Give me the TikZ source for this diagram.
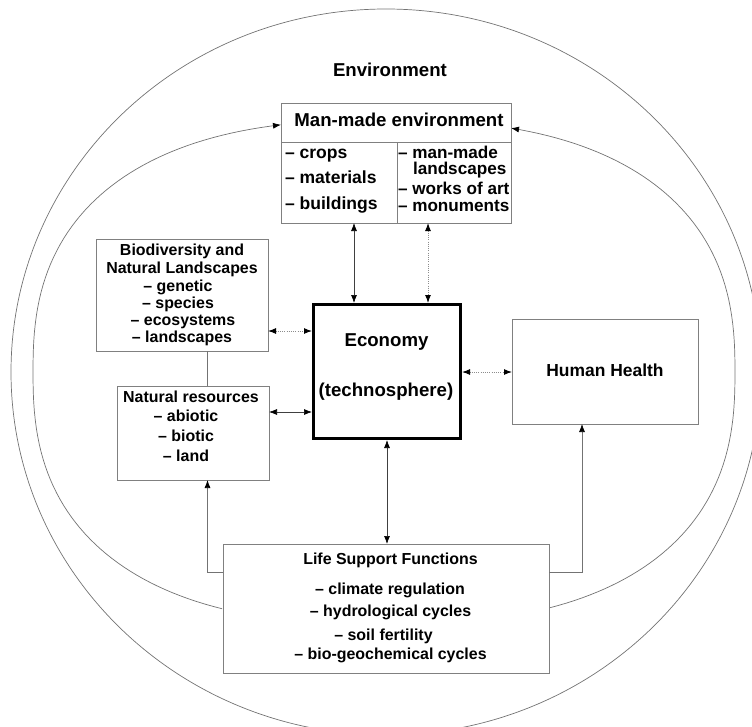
\documentclass[tikz,border=0pt]{standalone}
\usepackage{fontspec}
\setmainfont{Liberation Sans}
\usetikzlibrary{arrows.meta,calc}
\begin{document}
\begin{tikzpicture}[x=1bp,y=-1bp,
  >={Latex[length=8bp,width=6bp,color=black]},
  box/.style={draw=black!50, line width=0.8bp, fill=white, inner sep=0pt, outer sep=0pt},
  ecobox/.style={draw=black, line width=3bp, fill=white, inner sep=0pt, outer sep=1.5bp},
  ell/.style={draw=black!55, line width=0.7bp},
  con/.style={draw=black!75, line width=0.7bp},
  dotcon/.style={draw=black!45, line width=1bp, dash pattern=on 1bp off 1.2bp},
  plain/.style={draw=black!55, line width=0.7bp},
  lab/.style={inner sep=0pt, outer sep=0pt, text height=0.7em, text depth=0pt,
    font=\bfseries\fontsize{#1}{#1}\selectfont}
]
\useasboundingbox (0,0) rectangle (752,727);
\clip (0,0) rectangle (752,727);

% outer environment ellipse
\draw[ell] (386,372) ellipse [x radius=375, y radius=363];

% inner cycle arcs (superellipse)
\draw[ell,<-] plot[domain=102.48:247.65, samples=90, variable=\t]
  ({384+351*cos(\t)*(abs(cos(\t))+0.00001)^(-0.2)},
   {372-252*sin(\t)*(abs(sin(\t))+0.00001)^(-0.2)});
\draw[ell,->] plot[domain=-67.1:73.7, samples=90, variable=\t]
  ({384+351*cos(\t)*(abs(cos(\t))+0.00001)^(-0.2)},
   {372-252*sin(\t)*(abs(sin(\t))+0.00001)^(-0.2)});

% boxes
\node[box, minimum width=230bp, minimum height=120bp] (mm) at (396,163) {};
\node[box, minimum width=172bp, minimum height=112bp] (bio) at (182,295) {};
\node[box, minimum width=152bp, minimum height=94bp] (nr) at (193,433) {};
\node[ecobox, minimum width=147bp, minimum height=134bp] (eco) at (387,371.5) {};
\node[box, minimum width=186bp, minimum height=105bp] (hh) at (605,371.5) {};
\node[box, minimum width=326bp, minimum height=129bp] (lsf) at (386,608.5) {};

% helper coordinates
\coordinate (h1) at (0,142);
\coordinate (v1) at (397,0);
\coordinate (a1) at (354,0);
\coordinate (a2) at (428,0);
\coordinate (a3) at (0,331);
\coordinate (a4) at (0,412);
\coordinate (a5) at (0,372);
\coordinate (a6) at (387,0);
\coordinate (a7) at (0,572);
\coordinate (a8) at (207.5,0);
\coordinate (a9) at (582,0);

% man-made box dividers
\draw[box] (mm.west |- h1) -- (mm.east |- h1);
\draw[box] (v1 |- h1) -- (v1 |- mm.south);

% connectors
\draw[con,<->] (mm.south -| a1) -- (eco.north -| a1);
\draw[dotcon,<->] (mm.south -| a2) -- (eco.north -| a2);
\draw[dotcon,<->] (bio.east |- a3) -- (eco.west |- a3);
\draw[con,<->] (nr.east |- a4) -- (eco.west |- a4);
\draw[dotcon,<->] (eco.east |- a5) -- (hh.west |- a5);
\draw[con,<->] (eco.south -| a6) -- (lsf.north -| a6);
\draw[plain,->] (lsf.west |- a7) -| (nr.south -| a8);
\draw[plain,->] (lsf.east |- a7) -| (hh.south -| a9);
\draw[plain] (bio.south -| a8) -- (nr.north -| a8);

% texts
\node[lab=18.7] (tenv) at (390,73) {Environment};
\node[lab=18.7] (tmm) at (399,123) {Man-made environment};
\node[lab=17.6, anchor=west] (tmm1) at (285,155) {– crops};
\node[lab=17.6, anchor=west] (tmm2) at (285,180) {– materials};
\node[lab=17.6, anchor=west] (tmm3) at (285,206) {– buildings};
\node[lab=17.2, anchor=west] (tmm4) at (398,155) {– man-made};
\node[lab=17.2, anchor=west] (tmm5) at (413,171) {landscapes};
\node[lab=17.2, anchor=west] (tmm6) at (398,191) {– works of art};
\node[lab=17.2, anchor=west] (tmm7) at (398,208) {– monuments};

\node[lab=16] (tb1) at (182,252) {Biodiversity and};
\node[lab=16] (tb2) at (182,270) {Natural Landscapes};
\node[lab=16] (tb3) at (178,288) {– genetic};
\node[lab=16] (tb4) at (178,305) {– species};
\node[lab=16] (tb5) at (183,322) {– ecosystems};
\node[lab=16] (tb6) at (182,339) {– landscapes};

\node[lab=16] (tn1) at (191,399) {Natural resources};
\node[lab=16] (tn2) at (186,418) {– abiotic};
\node[lab=16] (tn3) at (186,438) {– biotic};
\node[lab=16] (tn4) at (186,458) {– land};

\node[lab=18.7] (te1) at (386.5,343) {Economy};
\node[lab=18.7] (te2) at (386,393) {(technosphere)};

\node[lab=17.5] (th) at (605,373) {Human Health};

\node[lab=16] (tl1) at (390.5,561) {Life Support Functions};
\node[lab=16] (tl2) at (390,591) {– climate regulation};
\node[lab=16] (tl3) at (390.5,613) {– hydrological cycles};
\node[lab=16] (tl4) at (383.5,637) {– soil fertility};
\node[lab=16] (tl5) at (390.5,656) {– bio-geochemical cycles};
\end{tikzpicture}
\end{document}
